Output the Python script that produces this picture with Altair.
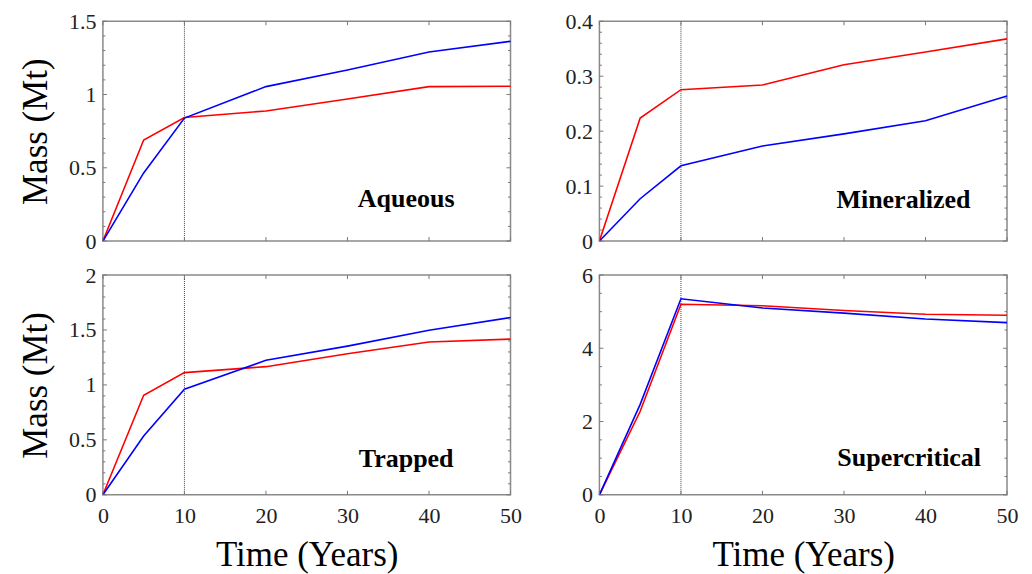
import altair as alt
import pandas as pd

years = [0, 5, 10, 20, 30, 40, 50]
x_ticks = [0, 10, 20, 30, 40, 50]

aq_red = [0, 0.69, 0.843, 0.888, 0.970, 1.054, 1.056]
aq_blue = [0, 0.465, 0.839, 1.054, 1.167, 1.29, 1.363]
min_red = [0, 0.224, 0.2755, 0.284, 0.321, 0.344, 0.368]
min_blue = [0, 0.077, 0.137, 0.173, 0.195, 0.219, 0.264]
tr_red = [0, 0.906, 1.112, 1.166, 1.284, 1.39, 1.417]
tr_blue = [0, 0.535, 0.961, 1.224, 1.353, 1.498, 1.613]
sc_red = [0, 2.28, 5.20, 5.16, 5.03, 4.93, 4.90]
sc_blue = [0, 2.47, 5.35, 5.10, 4.96, 4.80, 4.70]

aq_major = [0, 0.5, 1, 1.5]
aq_minor = [0.1, 0.2, 0.3, 0.4, 0.6, 0.7, 0.8, 0.9, 1.1, 1.2, 1.3, 1.4]
min_major = [0, 0.1, 0.2, 0.3, 0.4]
min_minor = [0.02, 0.04, 0.06, 0.08, 0.12, 0.14, 0.16, 0.18, 0.22, 0.24, 0.26, 0.28, 0.32, 0.34, 0.36, 0.38]
tr_major = [0, 0.5, 1, 1.5, 2]
tr_minor = [0.1, 0.2, 0.3, 0.4, 0.6, 0.7, 0.8, 0.9, 1.1, 1.2, 1.3, 1.4, 1.6, 1.7, 1.8, 1.9]
sc_major = [0, 2, 4, 6]
sc_minor = [0.5, 1, 1.5, 2.5, 3, 3.5, 4.5, 5, 5.5]

W, H = 408, 220
FONT = "Liberation Serif"
RED, BLUE = "#ff0000", "#0000ff"


def panel(name, red, blue, ymax, major, minor, label_x, label_y, bottom, left):
    df = pd.DataFrame({
        "Time": years * 2,
        "Mass": red + blue,
        "Series": ["Red"] * len(years) + ["Blue"] * len(years),
    })
    xs = alt.Scale(domain=[0, 50], nice=False, zero=False)
    ys = alt.Scale(domain=[0, ymax], nice=False, zero=False)
    common = dict(
        ticks=False, domain=False, grid=False, labelFlush=False, labelOverlap=False,
        labelFont=FONT, labelFontSize=22, labelColor="#222222",
        titleFont=FONT, titleFontSize=35, titleFontWeight="normal", titleColor="#000000",
    )
    xaxis = alt.Axis(
        values=x_ticks, labels=bottom, labelPadding=11, format="d",
        title="Time (Years)" if bottom else None,
        titlePadding=11, **common,
    )
    yaxis = alt.Axis(
        values=major, labelPadding=7, format="~g",
        title="Mass (Mt)" if left else None,
        titlePadding=15, **common,
    )
    lines = alt.Chart(df).mark_line(strokeWidth=1.6).encode(
        x=alt.X("Time:Q", scale=xs, axis=xaxis),
        y=alt.Y("Mass:Q", scale=ys, axis=yaxis),
        color=alt.Color("Series:N", scale=alt.Scale(domain=["Red", "Blue"], range=[RED, BLUE]), legend=None),
        order=alt.Order("Time:Q"),
    )
    vline = alt.Chart(pd.DataFrame({"t": [10]})).mark_rule(
        color="#444444", strokeWidth=1, strokeDash=[1, 1]
    ).encode(x=alt.X("t:Q", scale=xs, axis=xaxis))

    ymaj = pd.DataFrame({"v": major})
    ymin = pd.DataFrame({"v": minor})
    xt = pd.DataFrame({"v": x_ticks})
    tick_col = "#777777"
    layers = [lines, vline]
    for d, ln in ((ymaj, 4), (ymin, 2.5)):
        layers.append(alt.Chart(d).mark_rule(color=tick_col, strokeWidth=1).encode(
            y=alt.Y("v:Q", scale=ys, axis=yaxis), x=alt.value(0), x2=alt.value(ln)))
        layers.append(alt.Chart(d).mark_rule(color=tick_col, strokeWidth=1).encode(
            y=alt.Y("v:Q", scale=ys, axis=yaxis), x=alt.value(W - ln), x2=alt.value(W)))
    layers.append(alt.Chart(xt).mark_rule(color=tick_col, strokeWidth=1).encode(
        x=alt.X("v:Q", scale=xs, axis=xaxis), y=alt.value(H), y2=alt.value(H - 4)))
    layers.append(alt.Chart(xt).mark_rule(color=tick_col, strokeWidth=1).encode(
        x=alt.X("v:Q", scale=xs, axis=xaxis), y=alt.value(0), y2=alt.value(4)))

    lab = alt.Chart(pd.DataFrame({"name": [name], "x": [label_x], "y": [label_y]})).mark_text(
        font=FONT, fontSize=26, fontWeight="bold", color="#000000", align="center", baseline="middle"
    ).encode(
        x=alt.X("x:Q", scale=xs, axis=xaxis),
        y=alt.Y("y:Q", scale=ys, axis=yaxis),
        text="name:N",
    )
    layers.append(lab)
    return alt.layer(*layers).properties(width=W, height=H)


p1 = panel("Aqueous", aq_red, aq_blue, 1.5, aq_major, aq_minor, 37.2, 0.29, False, True)
p2 = panel("Mineralized", min_red, min_blue, 0.4, min_major, min_minor, 37.3, 0.074, False, False)
p3 = panel("Trapped", tr_red, tr_blue, 2, tr_major, tr_minor, 37.2, 0.33, True, True)
p4 = panel("Supercritical", sc_red, sc_blue, 6, sc_major, sc_minor, 38.0, 1.0, True, False)

chart = alt.concat(p1, p2, p3, p4, columns=2, spacing={"row": 10, "column": 41}).properties(
    padding={"left": 9, "top": 1, "right": 5, "bottom": 5},
    background="white",
).configure_view(
    stroke="#8a8a8a", strokeWidth=1.5
)

chart.save("out.html", embed_options={"renderer": "svg", "actions": False})
